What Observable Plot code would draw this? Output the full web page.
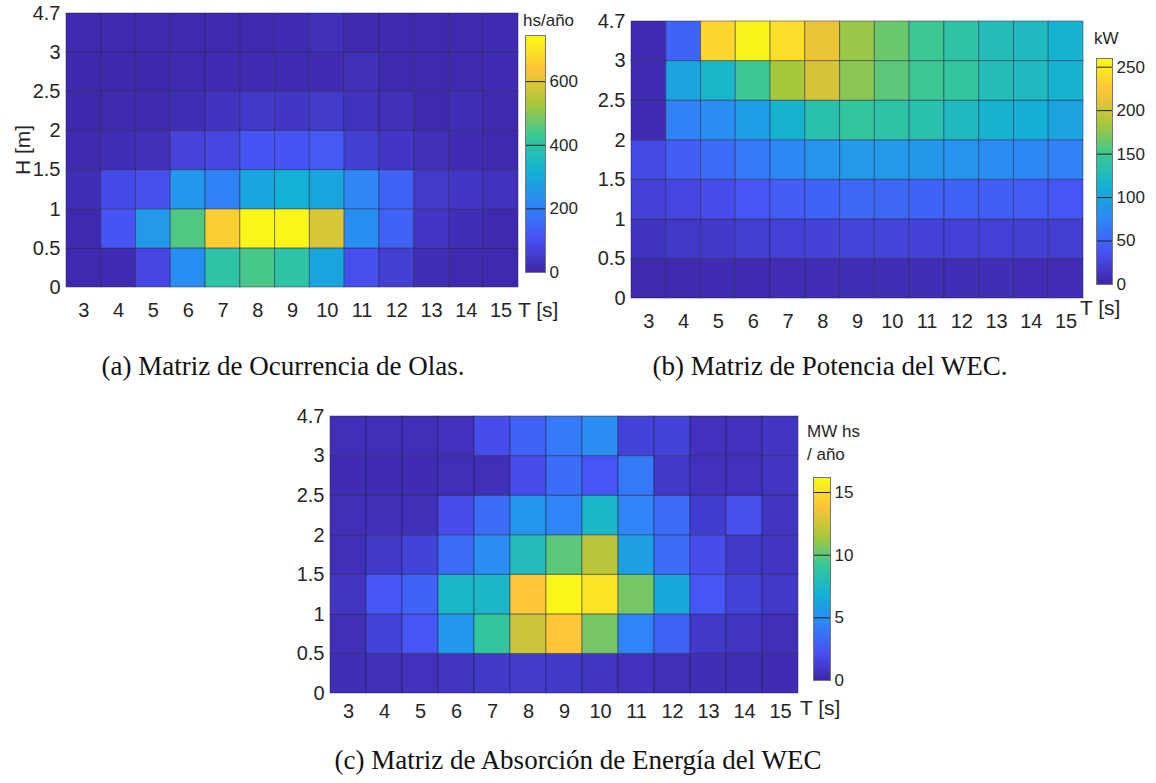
<!DOCTYPE html>
<html><head><meta charset="utf-8">
<script src="https://cdn.jsdelivr.net/npm/d3@7"></script>
<script src="https://cdn.jsdelivr.net/npm/@observablehq/plot@0.6"></script>
<style>
body{margin:0;background:#fff;}
#root{position:relative;width:1156px;height:783px;overflow:hidden;font-family:"Liberation Sans",Arial,sans-serif;}
#root svg{position:absolute;overflow:visible;}
.cap{position:absolute;font-family:"Liberation Serif","Times New Roman",serif;font-size:27px;line-height:27px;color:#111;white-space:nowrap;transform:translateX(-50%);}
.lbl{position:absolute;font-size:17px;line-height:17px;color:#262626;white-space:nowrap;}
.ax{position:absolute;font-size:21px;line-height:21px;color:#262626;white-space:nowrap;}
</style></head><body><div id="root"></div>
<script>
// Wave period T [s] (columns)
const periods = [3,4,5,6,7,8,9,10,11,12,13,14,15];
// Wave height bin boundaries H [m] (tick labels at row edges)
const heightBounds = ["0","0.5","1","1.5","2","2.5","3","4.7"];

// (a) Occurrence [hs/año]; rows from H 0-0.5 (bottom) to 3-4.7 (top)
const occRow0 = [10,15,80,230,400,440,400,290,100,60,20,10,10];
const occRow1 = [10,110,260,450,660,735,735,590,230,140,40,20,10];
const occRow2 = [20,90,100,250,200,290,320,290,210,140,50,40,30];
const occRow3 = [10,20,25,70,80,110,110,120,60,40,25,15,10];
const occRow4 = [5,8,10,20,35,45,40,50,30,25,10,20,10];
const occRow5 = [5,5,5,10,15,15,15,15,25,10,10,10,15];
const occRow6 = [8,8,8,8,10,10,15,25,10,10,10,10,15];
const occurrence = [occRow0,occRow1,occRow2,occRow3,occRow4,occRow5,occRow6];

// (b) WEC power [kW]
const powRow0 = [3,4,5,5,6,6,7,7,7,7,7,6,6];
const powRow1 = [12,15,17,20,22,24,25,25,24,23,22,21,20];
const powRow2 = [22,28,32,40,45,50,52,52,50,48,46,44,40];
const powRow3 = [30,45,55,65,75,85,90,90,88,85,80,75,70];
const powRow4 = [5,70,80,95,115,135,145,140,135,125,115,110,100];
const powRow5 = [5,100,120,150,185,205,175,160,150,145,130,125,115];
const powRow6 = [5,50,235,255,240,215,180,165,150,140,130,125,115];
const power = [powRow0,powRow1,powRow2,powRow3,powRow4,powRow5,powRow6];

// (c) Absorbed energy [MW hs / año]
const enRow0 = [0.4,0.5,0.6,0.8,1.0,1.1,1.0,0.8,0.6,0.5,0.4,0.4,0.3];
const enRow1 = [0.5,1.5,2.5,5.5,9,12.5,14,10.5,4.5,3,1,0.8,0.5];
const enRow2 = [0.8,2.5,3,7.5,7.5,14,16,15.3,10.5,6.5,2.5,1.5,1];
const enRow3 = [0.5,1,1.5,3.5,5,8,10,12,6,3.5,2,1,0.8];
const enRow4 = [0.5,0.5,0.5,2,3.5,5.5,4.5,7.5,4.5,3.5,1.2,2.2,0.8];
const enRow5 = [0.3,0.3,0.3,0.5,0.5,2,3.5,2.5,4,1,0.6,0.6,0.8];
const enRow6 = [0.5,0.5,0.5,0.6,2,3,4,5,1.5,1.5,0.6,0.6,0.8];
const energy = [enRow0,enRow1,enRow2,enRow3,enRow4,enRow5,enRow6];

// Colorbar tick values
const occTicks = [0,200,400,600];
const powTicks = [0,50,100,150,200,250];
const enTicks = [0,5,10,15];

// parula-like colormap
const parula = ["#3e26a8","#4852f4","#2e87f7","#12b1d6","#37c897","#abc739","#fec338","#f9fb15"];
const parulaInterp = d3.piecewise(d3.interpolateRgb, parula);

const root = document.getElementById("root");
const FONT = '"Liberation Sans", Arial, sans-serif';

function cells(matrix) {
  const out = [];
  matrix.forEach((row, r) => row.forEach((v, c) => out.push({t: periods[c], h: r, v})));
  return out;
}

function heatmap(matrix, max, o) {
  const svg = Plot.plot({
    width: o.ml + o.pw + o.mr, height: o.mt + o.ph + o.mb,
    marginLeft: o.ml, marginRight: o.mr, marginTop: o.mt, marginBottom: o.mb,
    style: {fontSize: "20px", fontFamily: FONT, color: "#262626", background: "transparent"},
    x: {domain: [2.5, 15.5], ticks: periods, tickSize: 0, tickPadding: o.xpad, label: null},
    y: {domain: [0, 7], ticks: d3.range(heightBounds.length), tickFormat: i => heightBounds[i], tickSize: 0, tickPadding: 6, label: null},
    color: {type: "linear", domain: [0, max], interpolate: parulaInterp},
    marks: [
      Plot.rect(cells(matrix), {x1: d => d.t - 0.5, x2: d => d.t + 0.5, y1: "h", y2: d => d.h + 1, fill: "v", stroke: "#1a1a40", strokeOpacity: 0.45, strokeWidth: 1})
    ]
  });
  svg.style.left = (o.left - o.ml) + "px";
  svg.style.top = (o.top - o.mt) + "px";
  root.appendChild(svg);
}

function colorbar(max, ticks, o) {
  const mt = 10, mb = 10, mr = 40;
  const svg = Plot.plot({
    width: o.w + mr, height: o.h + mt + mb,
    marginLeft: 0, marginRight: mr, marginTop: mt, marginBottom: mb,
    style: {fontSize: "17px", fontFamily: FONT, color: "#262626", background: "transparent"},
    x: {domain: [0, 1], axis: null},
    y: {domain: [0, max], ticks, tickSize: 0, tickPadding: 4, axis: "right", label: null},
    color: {type: "linear", domain: [0, max], interpolate: parulaInterp},
    marks: [
      Plot.raster({x1: 0, x2: 1, y1: 0, y2: max, width: 1, height: 300, fill: (x, y) => y, imageRendering: "auto"}),
      Plot.tickY(ticks, {y: d => d, x1: 0.75, x2: 1, stroke: "#222", strokeWidth: 1}),
      Plot.frame({stroke: "#777", strokeWidth: 1})
    ]
  });
  svg.style.left = o.left + "px";
  svg.style.top = (o.top - mt) + "px";
  root.appendChild(svg);
}

function addDiv(cls, text, left, top, extra) {
  const d = document.createElement("div");
  d.className = cls;
  d.textContent = text;
  d.style.left = left + "px";
  d.style.top = top + "px";
  if (extra) Object.assign(d.style, extra);
  root.appendChild(d);
  return d;
}

// Panel (a)
heatmap(occurrence, 745, {left: 66, top: 13, pw: 452, ph: 274, ml: 70, mr: 10, mt: 15, mb: 40, xpad: 15});
colorbar(745, occTicks, {left: 525, top: 35, w: 20, h: 237});
addDiv("lbl", "hs/año", 523, 12);
addDiv("ax", "T [s]", 518, 299);
addDiv("ax", "H [m]", 22, 150, {transform: "translate(-50%,-50%) rotate(-90deg)"});
addDiv("cap", "(a) Matriz de Ocurrencia de Olas.", 283, 353);

// Panel (b)
heatmap(power, 260, {left: 631, top: 21, pw: 452, ph: 277, ml: 60, mr: 10, mt: 15, mb: 40, xpad: 15});
colorbar(260, powTicks, {left: 1096, top: 58, w: 16, h: 226});
addDiv("lbl", "kW", 1094, 30);
addDiv("ax", "T [s]", 1080, 297);
addDiv("cap", "(b) Matriz de Potencia del WEC.", 830, 353);

// Panel (c)
heatmap(energy, 16.2, {left: 330, top: 416, pw: 468, ph: 277, ml: 60, mr: 10, mt: 15, mb: 40, xpad: 10});
colorbar(16.2, enTicks, {left: 813, top: 477, w: 17, h: 203});
addDiv("lbl", "MW hs", 807, 423);
addDiv("lbl", "/ año", 807, 446);
addDiv("ax", "T [s]", 800, 697);
addDiv("cap", "(c) Matriz de Absorción de Energía del WEC", 578, 747);
</script>
</body></html>
